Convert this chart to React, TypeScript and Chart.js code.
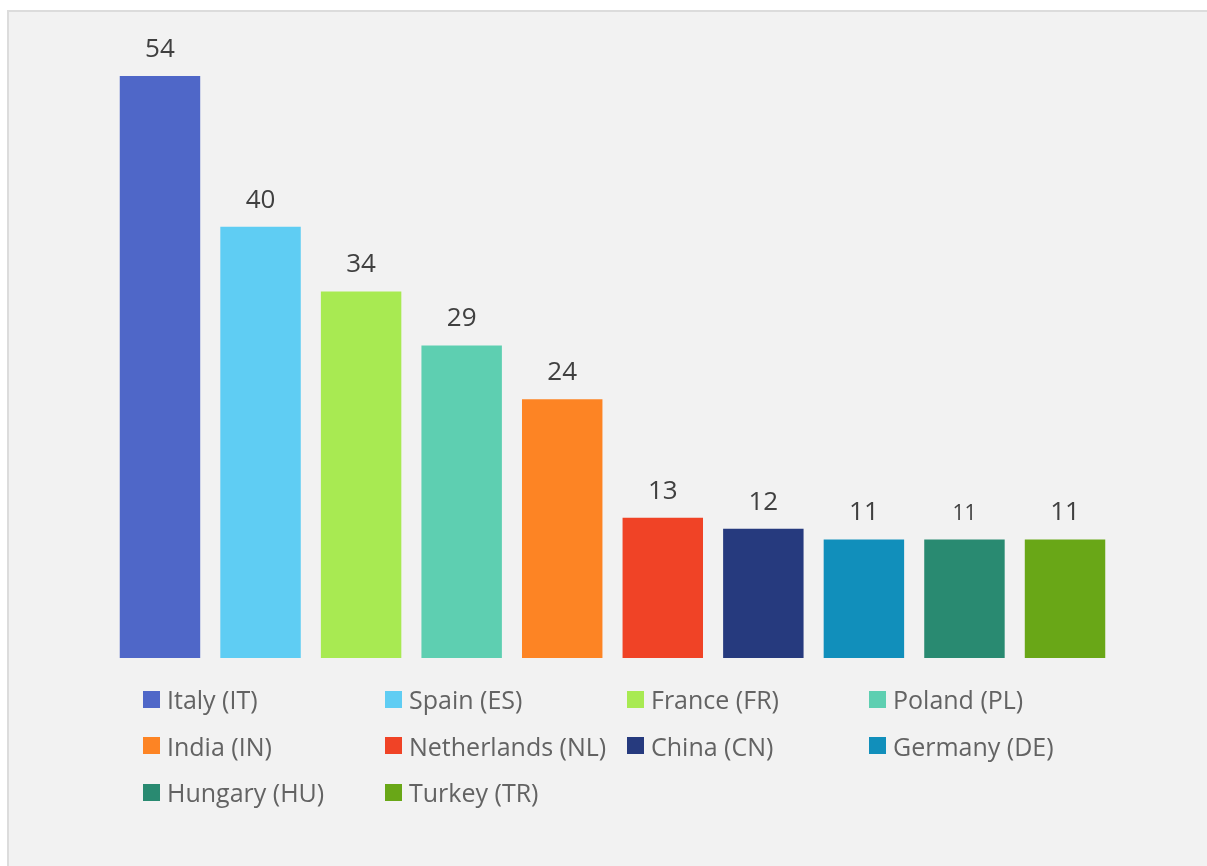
import React, { useEffect, useRef } from "react";
import { Chart, registerables } from "chart.js";

Chart.register(...registerables);

const countries = [
  "Italy (IT)",
  "Spain (ES)",
  "France (FR)",
  "Poland (PL)",
  "India (IN)",
  "Netherlands (NL)",
  "China (CN)",
  "Germany (DE)",
  "Hungary (HU)",
  "Turkey (TR)",
];
const values = [54, 40, 34, 29, 24, 13, 12, 11, 11, 11];
const colors = [
  "#4f67c8",
  "#5fcdf3",
  "#a8ea52",
  "#5ecfb1",
  "#fd8424",
  "#f04326",
  "#263a7e",
  "#118fbb",
  "#298a71",
  "#69a717",
];
const labelSizes = [26, 26, 26, 26, 26, 26, 26, 26, 21, 26];

const FONT = "'Open Sans', 'Noto Sans', sans-serif";

const valueLabels = {
  id: "valueLabels",
  afterDatasetsDraw(chart: any) {
    const ctx = chart.ctx;
    const meta = chart.getDatasetMeta(0);
    ctx.save();
    ctx.fillStyle = "#404040";
    ctx.textAlign = "center";
    ctx.textBaseline = "alphabetic";
    meta.data.forEach((bar: any, i: number) => {
      ctx.font = `${labelSizes[i]}px ${FONT}`;
      ctx.fillText(String(values[i]), bar.x, bar.y - 19);
    });
    ctx.restore();
  },
};

export default function App() {
  const ref = useRef<HTMLCanvasElement>(null);
  useEffect(() => {
    if (!ref.current) return;
    const chart = new Chart(ref.current, {
      type: "bar",
      data: {
        labels: countries,
        datasets: [
          {
            data: values,
            backgroundColor: colors,
            borderWidth: 0,
            barPercentage: 0.8,
            categoryPercentage: 1,
          },
        ],
      },
      options: {
        animation: false,
        responsive: false,
        layout: { padding: { left: 100.7, right: 83.7, top: 10, bottom: 34 } },
        plugins: { legend: { display: false }, tooltip: { enabled: false } },
        scales: {
          x: { display: false },
          y: { display: false, min: 0, max: 59 },
        },
      },
      plugins: [valueLabels],
    });
    return () => chart.destroy();
  }, []);

  return (
    <div
      style={{
        position: "absolute",
        left: 7,
        top: 10,
        width: 1220,
        height: 880,
        border: "2px solid #dcdcdc",
        background: "#f2f2f2",
        boxSizing: "border-box",
        overflow: "hidden",
      }}
    >
      <canvas ref={ref} width={1190} height={680} style={{ position: "absolute", left: 0, top: 0 }} />
      <div
        style={{
          position: "absolute",
          left: 134,
          top: 664,
          display: "grid",
          gridTemplateColumns: "242px 242px 242px 242px",
          gridAutoRows: "46.5px",
          fontFamily: FONT,
          fontSize: 25,
          color: "#636363",
        }}
      >
        {countries.map((c, i) => (
          <div key={c} style={{ display: "flex", alignItems: "center", whiteSpace: "nowrap" }}>
            <span
              style={{
                display: "inline-block",
                width: 17,
                height: 17,
                background: colors[i],
                marginRight: 7,
              }}
            />
            <span>{c}</span>
          </div>
        ))}
      </div>
    </div>
  );
}
